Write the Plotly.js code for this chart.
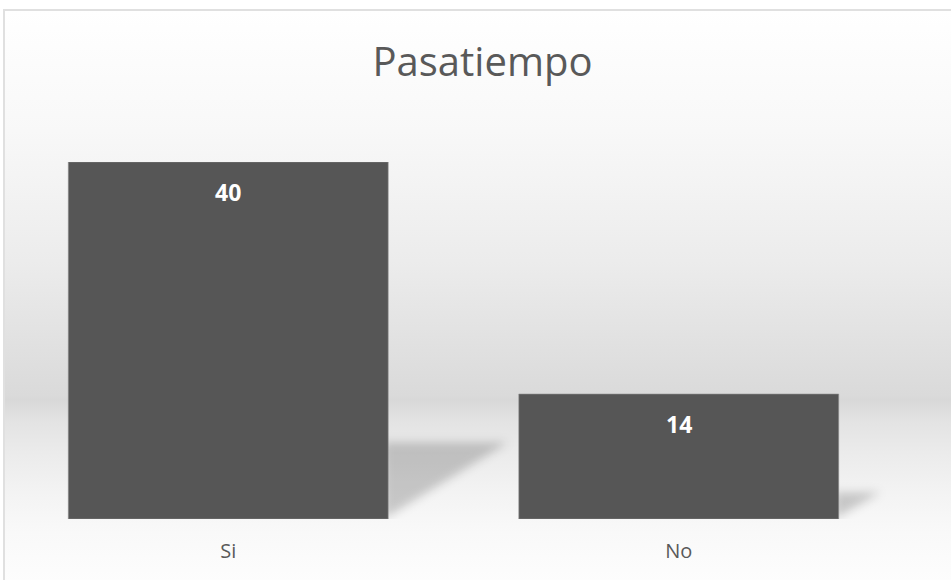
<!DOCTYPE html>
<html>
<head>
<meta charset="utf-8">
<script src="https://cdn.plot.ly/plotly-3.0.1.min.js"></script>
<style>
  html, body { margin: 0; padding: 0; background: #ffffff; width: 951px; height: 580px; overflow: hidden; }
  #bg {
    position: absolute; left: 3px; top: 9px; width: 960px; height: 600px;
    border-left: 2px solid #e0e0e0; border-top: 2px solid #e0e0e0;
    background: linear-gradient(to bottom,
      #ffffff 0px, #f8f8f8 120px, #ececec 250px, #dadada 384px,
      #d8d8d8 389px, #dddddd 398px, #e3e3e3 410px, #ebebeb 441px,
      #f3f3f3 481px, #f9f9f9 521px, #fdfdfd 571px);
  }
  #chart { position: absolute; left: 0; top: 0; width: 951px; height: 580px; }
</style>
</head>
<body>
<div id="bg"></div>
<div id="chart"></div>
<script>
// ---- data ----
const categories = ["Si", "No"];
const values = [40, 14];
const chartTitle = "Pasatiempo";

// ---- style ----
const barColor = "#565656";
const textColor = "#595959";
const barWidth = 0.71;
const font = "Open Sans, Liberation Sans, sans-serif";

const positions = categories.map((c, i) => i);

// soft shadows cast to the right of each bar (derived from the bar values)
const shadowShapes = positions.map((x, i) => {
  const xr = x + barWidth / 2;
  const h = values[i] * 0.215;
  const dx = h * 0.031;
  return {
    type: "path", xref: "x", yref: "y", layer: "below",
    path: `M ${xr - 0.01},0 L ${xr - 0.01},${h} L ${xr + dx},${h} Z`,
    fillcolor: "rgba(0,0,0,0.19)",
    line: { width: 0 }
  };
});

const labelAnnotations = positions.map((x, i) => ({
  x: x, y: values[i], xref: "x", yref: "y",
  text: "<b>" + values[i] + "</b>",
  showarrow: false, yanchor: "middle", yshift: -30,
  font: { family: font, size: 23, color: "#ffffff" }
}));

const trace = {
  type: "bar",
  x: positions,
  y: values,
  width: barWidth,
  marker: { color: barColor, line: { color: "#8c8c8c", width: 0.6 } },
  hoverinfo: "none"
};

const layout = {
  width: 951, height: 580,
  margin: { l: 3, r: 47, t: 162, b: 61, pad: 0 },
  paper_bgcolor: "rgba(0,0,0,0)",
  plot_bgcolor: "rgba(0,0,0,0)",
  showlegend: false,
  title: {
    text: chartTitle,
    x: 482.5 / 951, xanchor: "center", xref: "container",
    y: 1 - 62 / 580, yanchor: "middle", yref: "container",
    font: { family: font, size: 40, color: textColor }
  },
  xaxis: {
    range: [-0.5, 1.5],
    tickmode: "array", tickvals: positions, ticktext: categories,
    showgrid: false, zeroline: false, showline: false, ticks: "",
    ticklabelstandoff: 18,
    tickfont: { family: font, size: 20, color: textColor },
    fixedrange: true
  },
  yaxis: {
    range: [0, Math.max(...values)],
    visible: false, showgrid: false, zeroline: false, fixedrange: true
  },
  shapes: shadowShapes,
  annotations: labelAnnotations
};

Plotly.newPlot("chart", [trace], layout, { displayModeBar: false, staticPlot: true }).then(gd => {
  const svg = gd.querySelector("svg.main-svg");
  const ns = "http://www.w3.org/2000/svg";
  let defs = svg.querySelector("defs");
  if (!defs) { defs = document.createElementNS(ns, "defs"); svg.insertBefore(defs, svg.firstChild); }
  const filter = document.createElementNS(ns, "filter");
  filter.setAttribute("id", "shadowBlur");
  filter.setAttribute("x", "-50%"); filter.setAttribute("y", "-50%");
  filter.setAttribute("width", "200%"); filter.setAttribute("height", "200%");
  const blur = document.createElementNS(ns, "feGaussianBlur");
  blur.setAttribute("stdDeviation", "5");
  filter.appendChild(blur);
  defs.appendChild(filter);
  gd.querySelectorAll(".shapelayer path").forEach(p => p.setAttribute("filter", "url(#shadowBlur)"));
});
</script>
</body>
</html>
